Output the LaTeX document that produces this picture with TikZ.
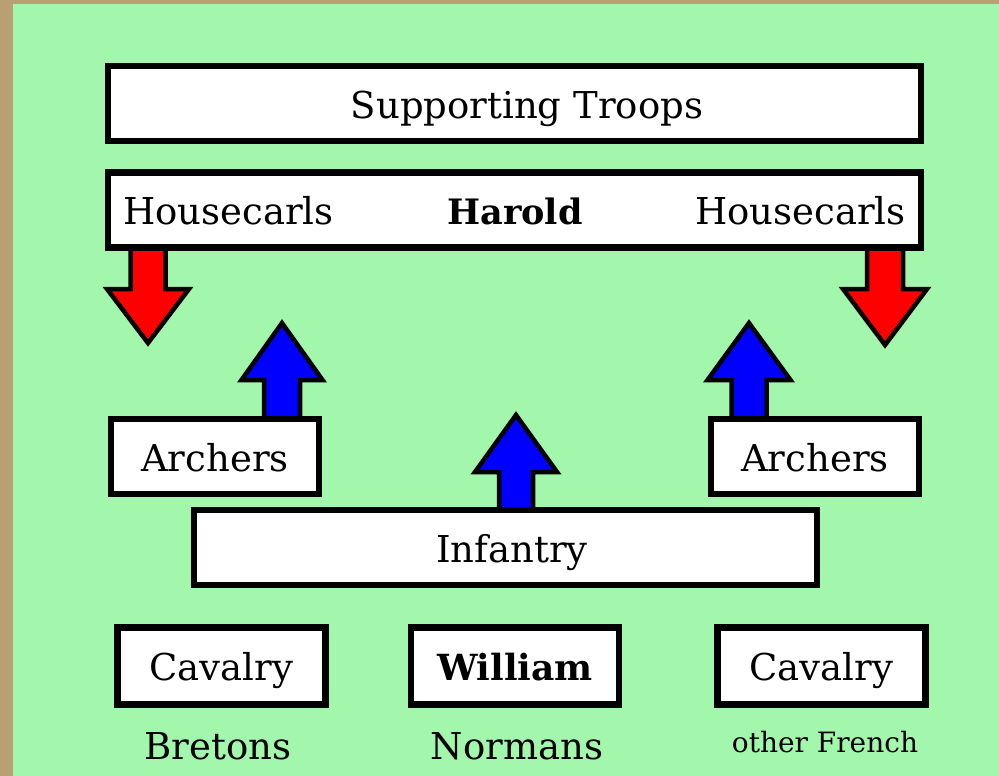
\documentclass[tikz,border=0pt]{standalone}
\usepackage{fontspec}
\setmainfont{DejaVu Serif}
\definecolor{tanbg}{RGB}{184,160,116}
\definecolor{greenbg}{RGB}{163,247,172}
\definecolor{redarrow}{RGB}{255,0,0}
\definecolor{bluearrow}{RGB}{0,0,255}
\begin{document}
\begin{tikzpicture}[x=1pt,y=-1pt,
  box/.style={draw=black,line width=6.5pt,fill=white,inner sep=0pt,text height=36pt,text depth=7pt,font=\fontsize{37}{40}\selectfont},
  lbl/.style={inner sep=0pt,font=\fontsize{37}{40}\selectfont},
  arr/.style={draw=black,line width=4.5pt,line join=miter}]
\useasboundingbox (0,0) rectangle (999,776);
\fill[tanbg] (0,0) rectangle (999,776);
\fill[greenbg] (13,4) rectangle (999,776);
% arrows (behind boxes)
\newcommand\uparr[7]{% color, cx, tip y, head base y, bottom y, head half, shaft half
  \draw[arr,fill=#1] (#2,#3) -- (#2+#6,#4) -- (#2+#7,#4) -- (#2+#7,#5) -- (#2-#7,#5) -- (#2-#7,#4) -- (#2-#6,#4) -- cycle;}
\uparr{redarrow}{148}{343}{289}{245}{41}{17.5}
\uparr{redarrow}{885}{345}{289}{245}{42}{18}
\uparr{bluearrow}{282}{323}{380}{420}{40.5}{18}
\uparr{bluearrow}{749}{323}{380}{420}{41.5}{17.5}
\uparr{bluearrow}{516}{415}{472}{511}{41}{17}
% boxes
\node[box,minimum width=813pt,minimum height=75pt] (support) at (514.5,103.5) {};
\node[lbl,anchor=base] (suptext) at (527,118) {Supporting Troops};
\node[box,minimum width=813pt,minimum height=75pt] (harold) at (514.5,210) {};
\node[lbl,anchor=base west] (hcl) at (123,224) {Housecarls};
\node[lbl,anchor=base,font=\fontsize{35}{40}\selectfont\bfseries] (hname) at (515,224) {Harold};
\node[lbl,anchor=base east] (hcr) at (906,224) {Housecarls};
\node[box,minimum width=208pt,minimum height=75pt] (archl) at (215,456.5) {Archers};
\node[box,minimum width=208pt,minimum height=75pt] (archr) at (815,456.5) {Archers};
\node[box,minimum width=623pt,minimum height=75pt] (inf) at (505.5,547.5) {};
\node[lbl,anchor=base] (inftext) at (512,562) {Infantry};
\node[box,minimum width=208pt,minimum height=77pt] (cavl) at (221.5,666) {Cavalry};
\node[box,minimum width=208pt,minimum height=77pt,font=\fontsize{36}{40}\selectfont\bfseries] (will) at (515,666) {William};
\node[box,minimum width=208pt,minimum height=77pt] (cavr) at (821.5,666) {Cavalry};
\node[lbl,anchor=base] (bret) at (218,759) {Bretons};
\node[lbl,anchor=base] (norm) at (517,759) {Normans};
\node[lbl,anchor=base,font=\fontsize{28}{32}\selectfont] (fren) at (825,752) {other French};
\end{tikzpicture}
\end{document}
